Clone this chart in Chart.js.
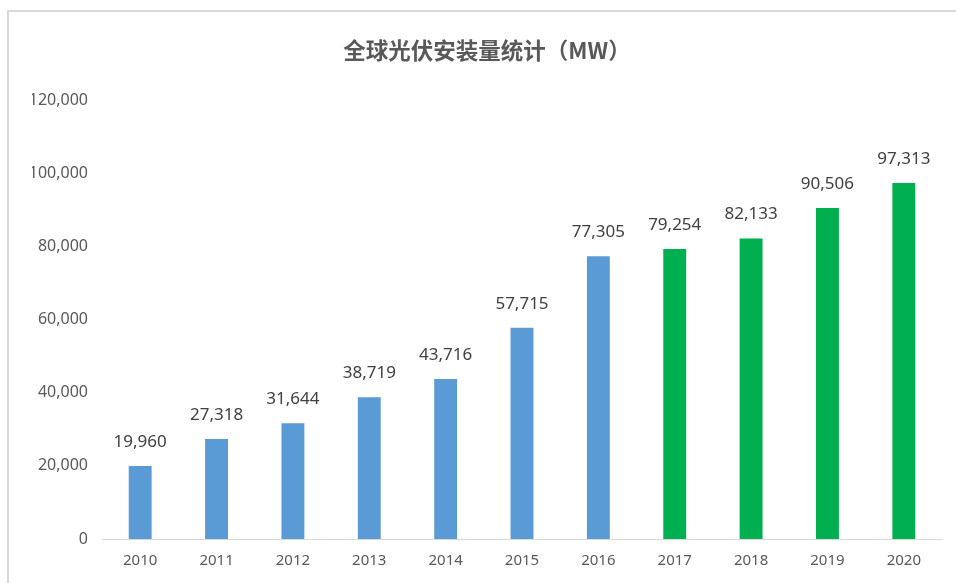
<!DOCTYPE html>
<html lang="zh">
<head>
  <meta charset="UTF-8" />
  <title>全球光伏安装量统计</title>
  <script src="https://cdn.jsdelivr.net/npm/chart.js"></script>
  <style>
    html, body {
      margin: 0;
      padding: 0;
      width: 956px;
      height: 583px;
      overflow: hidden;
      background: #ffffff;
    }
    .frame {
      position: absolute;
      left: 7px;
      top: 10px;
      width: 1000px;
      height: 1000px;
      border: 2px solid #d9d9d9;
    }
    .wrap {
      position: absolute;
      left: 0;
      top: 0;
      width: 956px;
      height: 583px;
    }
  </style>
</head>
<body>
  <div class="frame"></div>
  <div class="wrap">
    <canvas id="pvChart"></canvas>
  </div>

  <script>
    // data
    const years = ["2010", "2011", "2012", "2013", "2014", "2015", "2016", "2017", "2018", "2019", "2020"];
    const installed = [19960, 27318, 31644, 38719, 43716, 57715, 77305, 79254, 82133, 90506, 97313];
    const barColors = ["#5b9bd5", "#5b9bd5", "#5b9bd5", "#5b9bd5", "#5b9bd5", "#5b9bd5", "#5b9bd5",
                       "#00b050", "#00b050", "#00b050", "#00b050"];
    const yTicks = [0, 20000, 40000, 60000, 80000, 100000, 120000];

    const fmt = v => Number(v).toLocaleString("en-US");

    // value labels above each bar
    const barLabels = {
      id: "barLabels",
      afterDatasetsDraw(chart) {
        const ctx = chart.ctx;
        const meta = chart.getDatasetMeta(0);
        ctx.save();
        ctx.font = "17px 'Noto Sans', sans-serif";
        ctx.fillStyle = "#404040";
        ctx.textAlign = "center";
        ctx.textBaseline = "middle";
        meta.data.forEach((bar, i) => {
          ctx.fillText(fmt(installed[i]), bar.x, bar.y - 24);
        });
        ctx.restore();
      }
    };

    new Chart(document.getElementById("pvChart"), {
      type: "bar",
      data: {
        labels: years,
        datasets: [{
          data: installed,
          backgroundColor: barColors,
          borderWidth: 0,
          categoryPercentage: 1,
          barPercentage: 0.3
        }]
      },
      options: {
        responsive: true,
        maintainAspectRatio: false,
        animation: false,
        layout: {
          // left padding shifts the title centre to match the original
          padding: { left: 32, right: 14, top: 0, bottom: 0 }
        },
        plugins: {
          legend: { display: false },
          tooltip: { enabled: false },
          title: {
            display: true,
            text: "全球光伏安装量统计（MW）",
            color: "#595959",
            font: { family: "'Noto Sans CJK SC', sans-serif", size: 22.5, weight: "bold", lineHeight: 1.2 },
            padding: { top: 37, bottom: 36 }
          }
        },
        scales: {
          x: {
            grid: { display: false, drawTicks: false },
            border: { display: true, color: "#d9d9d9", width: 1 },
            ticks: {
              color: "#595959",
              padding: 13,
              font: { family: "'Noto Sans', sans-serif", size: 15 }
            }
          },
          y: {
            min: 0,
            max: 120000,
            grid: { display: false, drawTicks: false },
            border: { display: false },
            afterBuildTicks: scale => {
              scale.ticks = yTicks.map(v => ({ value: v }));
            },
            afterFit: scale => {
              scale.width = 70;
            },
            ticks: {
              color: "#595959",
              padding: 14,
              font: { family: "'Noto Sans', sans-serif", size: 16 },
              callback: v => fmt(v)
            }
          }
        }
      },
      plugins: [barLabels]
    });
  </script>
</body>
</html>
